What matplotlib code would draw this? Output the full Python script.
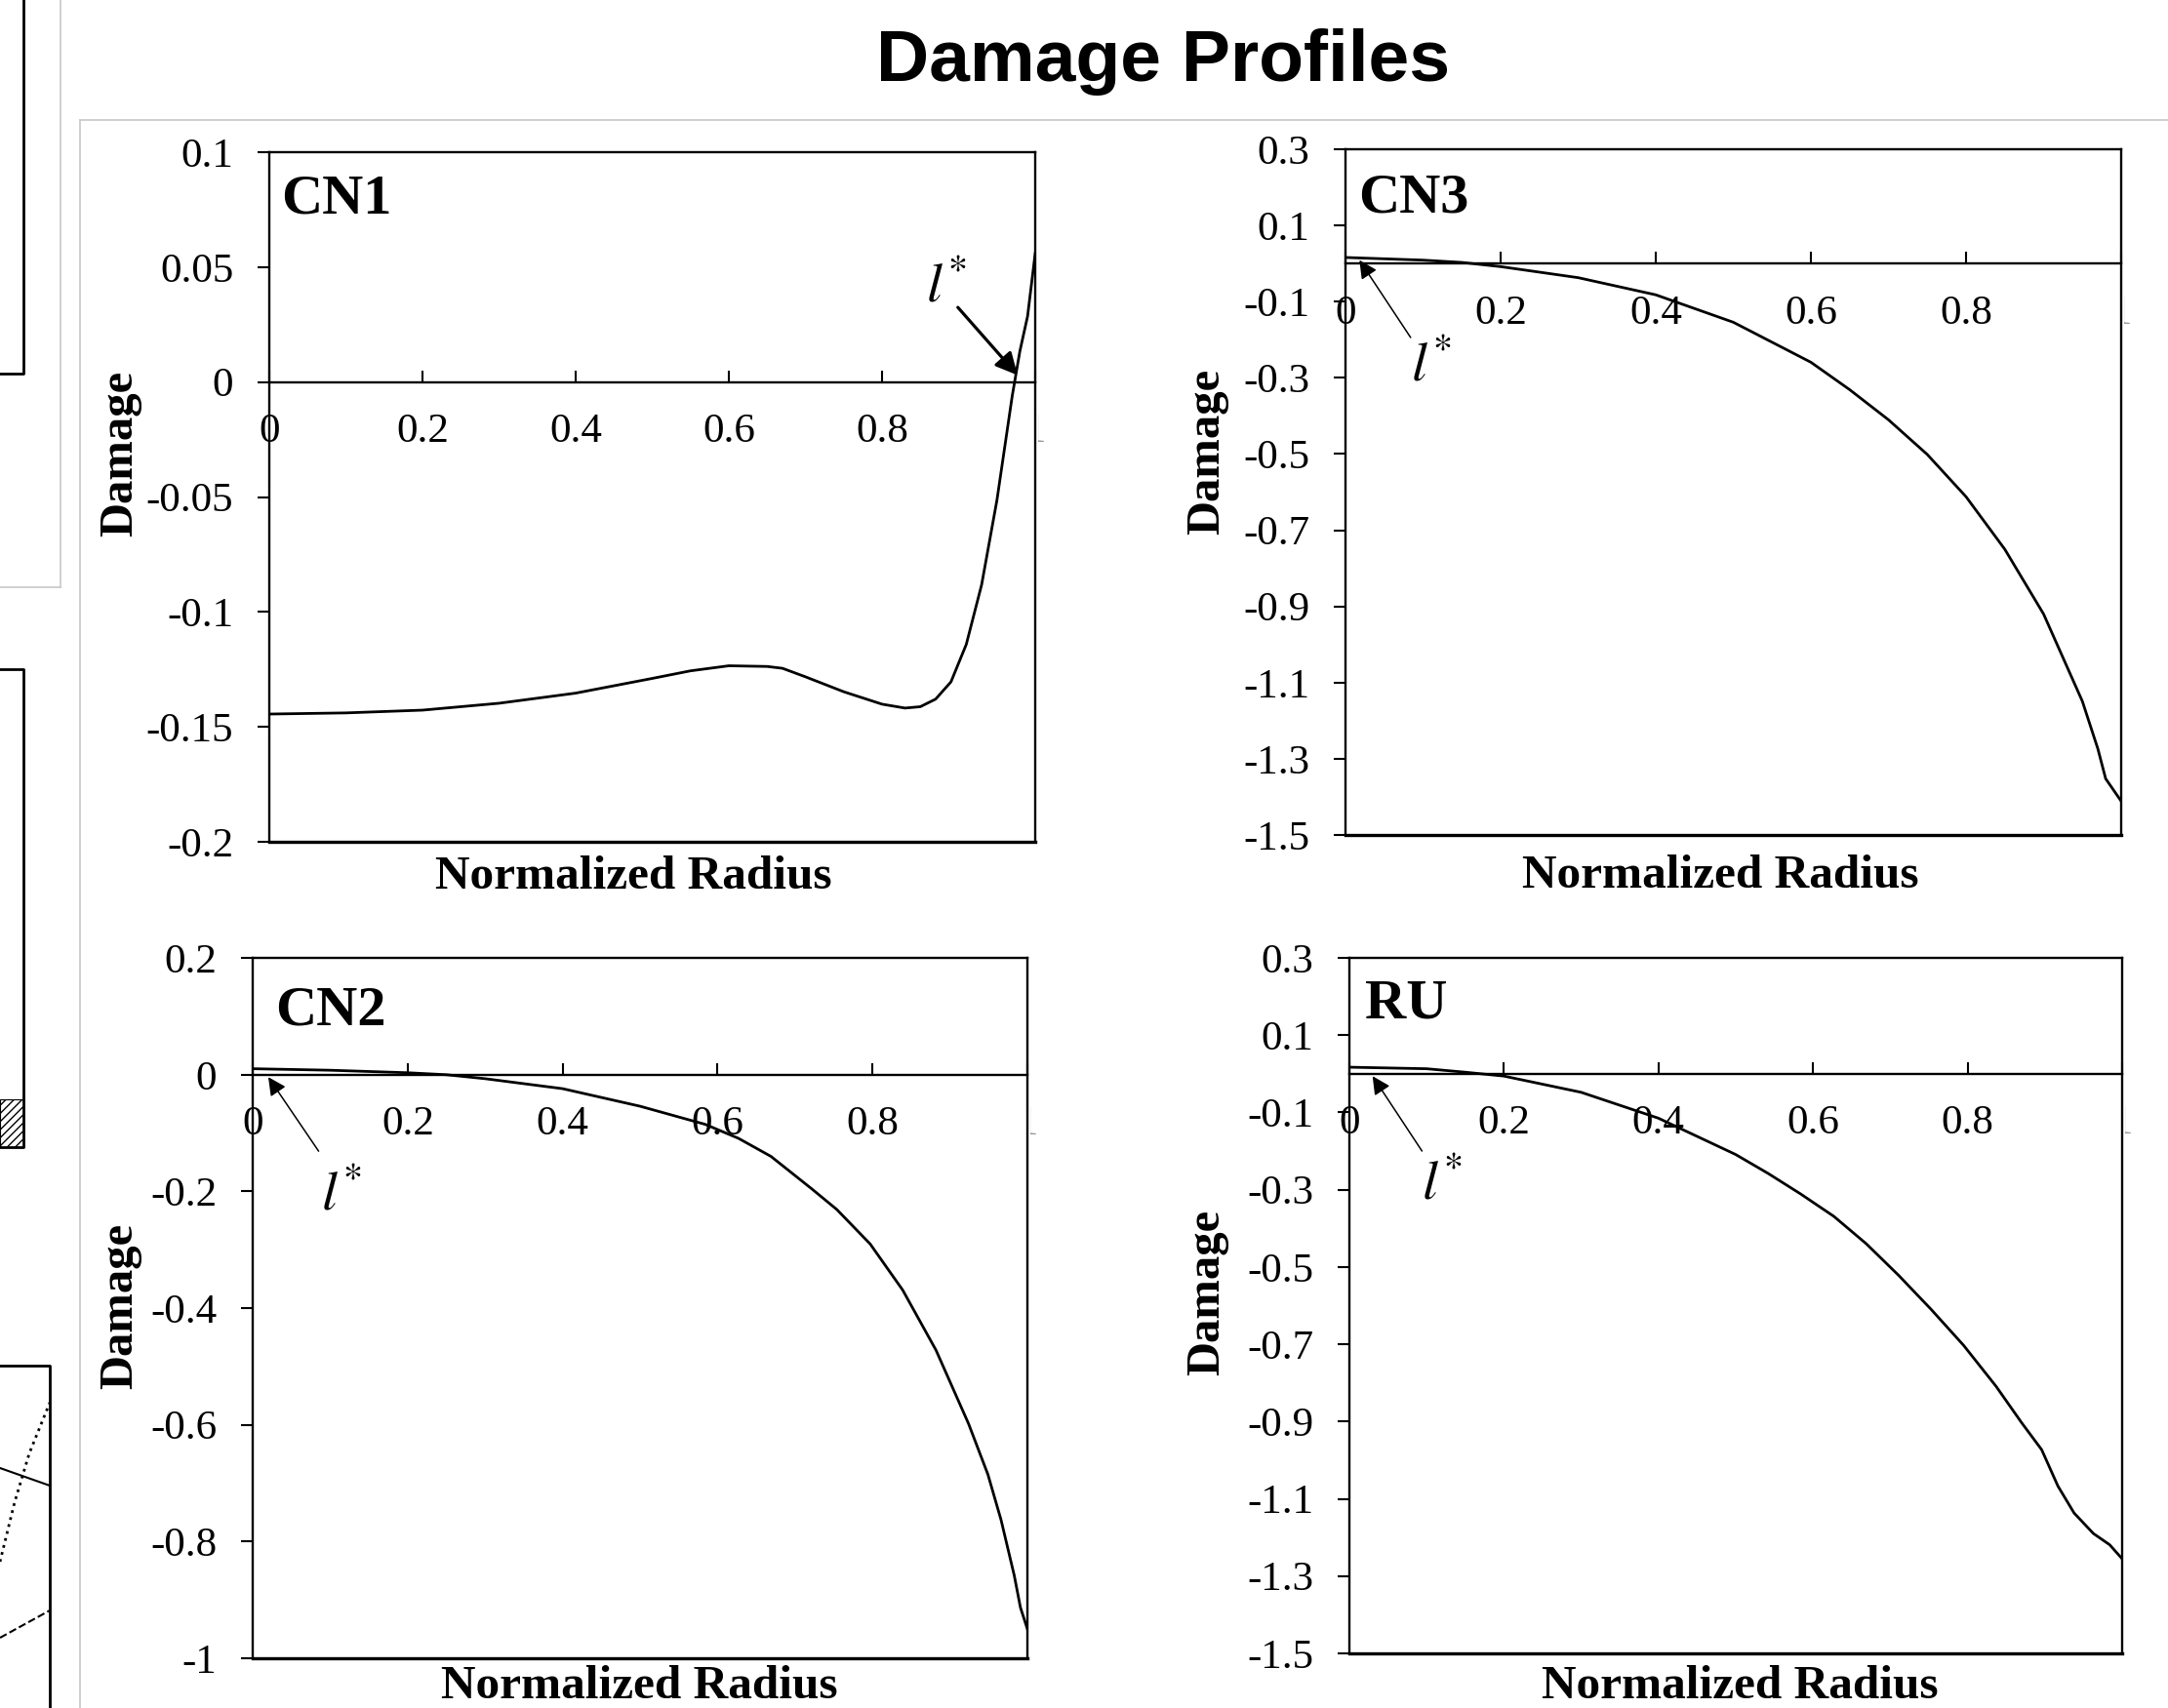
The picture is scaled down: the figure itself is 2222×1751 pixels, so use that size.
import matplotlib
matplotlib.use("Agg")
import matplotlib.pyplot as plt
from matplotlib.lines import Line2D
from matplotlib.patches import Rectangle
from matplotlib.transforms import Bbox, TransformedBbox

plt.rcParams['font.family'] = ['Liberation Serif', 'DejaVu Serif']
plt.rcParams['mathtext.fontset'] = 'stix'

W, H = 2222, 1751

# damage profiles (normalized radius -> damage)
cn1_x = [0, 0.1, 0.2, 0.3, 0.4, 0.5, 0.55, 0.6, 0.65, 0.67, 0.7, 0.75, 0.8, 0.83,
         0.85, 0.87, 0.89, 0.91, 0.93, 0.95, 0.97, 0.98, 0.99, 1.0]
cn1_y = [-0.1444, -0.1439, -0.1427, -0.1397, -0.1353, -0.1289, -0.1256, -0.1234,
         -0.1237, -0.1245, -0.1282, -0.1347, -0.1401, -0.1418, -0.1412, -0.1379,
         -0.1304, -0.1141, -0.0882, -0.0514, -0.006, 0.0135, 0.0286, 0.056]

cn3_x = [0, 0.1, 0.15, 0.2, 0.3, 0.4, 0.5, 0.6, 0.65, 0.7, 0.75, 0.8, 0.85, 0.9,
         0.95, 0.97, 0.98, 1.0]
cn3_y = [0.016, 0.009, 0.003, -0.008, -0.037, -0.082, -0.154, -0.259, -0.331,
         -0.41, -0.501, -0.612, -0.75, -0.92, -1.149, -1.274, -1.352, -1.411]

cn2_x = [0, 0.1, 0.2, 0.25, 0.3, 0.4, 0.5, 0.584, 0.627, 0.669, 0.722, 0.754,
         0.797, 0.839, 0.882, 0.924, 0.949, 0.966, 0.983, 0.991, 1.0]
cn2_y = [0.0103, 0.0077, 0.0034, 0.0, -0.0068, -0.0239, -0.054, -0.085, -0.109,
         -0.140, -0.196, -0.231, -0.290, -0.369, -0.472, -0.598, -0.685, -0.763,
         -0.858, -0.913, -0.95]

ru_x = [0, 0.1, 0.15, 0.2, 0.3, 0.4, 0.5, 0.542, 0.584, 0.627, 0.669, 0.711,
        0.753, 0.795, 0.837, 0.87, 0.896, 0.917, 0.938, 0.963, 0.984, 1.0]
ru_y = [0.017, 0.013, 0.004, -0.006, -0.048, -0.115, -0.209, -0.258, -0.311,
        -0.369, -0.440, -0.522, -0.610, -0.703, -0.809, -0.903, -0.973, -1.067,
        -1.137, -1.190, -1.219, -1.255]

x_ticks = [0, 0.2, 0.4, 0.6, 0.8, 1.0]
x_tick_labels = ['0', '0.2', '0.4', '0.6', '0.8', '1']

cn1_yticks = [0.1, 0.05, 0, -0.05, -0.1, -0.15, -0.2]
cn1_ylabels = ['0.1', '0.05', '0', '-0.05', '-0.1', '-0.15', '-0.2']
cn2_yticks = [0.2, 0, -0.2, -0.4, -0.6, -0.8, -1.0]
cn2_ylabels = ['0.2', '0', '-0.2', '-0.4', '-0.6', '-0.8', '-1']
wide_yticks = [0.3, 0.1, -0.1, -0.3, -0.5, -0.7, -0.9, -1.1, -1.3, -1.5]
wide_ylabels = ['0.3', '0.1', '-0.1', '-0.3', '-0.5', '-0.7', '-0.9', '-1.1', '-1.3', '-1.5']

# l* markers: (arrow tip, arrow tail, text position)
cn1_mark = ((0.977, 0.003), (0.899, 0.0325), (0.884, 0.041))
cn3_mark = ((0.018, 0.009), (0.084, -0.194), (0.110, -0.272))
cn2_mark = ((0.02, -0.004), (0.085, -0.131), (0.114, -0.208))
ru_mark = ((0.03, -0.006), (0.094, -0.2), (0.12, -0.29))

fig = plt.figure(figsize=(W / 100, H / 100), dpi=100)


def px(x, y):
    return x / W, 1 - y / H


def fig_line(xs, ys, **kw):
    fx = [x / W for x in xs]
    fy = [1 - y / H for y in ys]
    fig.add_artist(Line2D(fx, fy, transform=fig.transFigure, **kw))


# page frame and the edge of the neighbouring figure
fig_line([82, W], [123, 123], color='#c8c8c8', lw=1.2)
fig_line([82, 82], [123, H], color='#c8c8c8', lw=1.2)
fig_line([62, 62], [0, 602], color='#c8c8c8', lw=1.2)
fig_line([0, 62], [602, 602], color='#c8c8c8', lw=1.2)
fig_line([0, 24, 24], [383, 383, 0], color='k', lw=2)
fig_line([0, 24, 24, 0], [686, 686, 1176, 1176], color='k', lw=2)
fig.add_artist(Rectangle(px(0, 1176), 24 / W, 49 / H, transform=fig.transFigure,
                         fill=False, hatch='////', lw=0.8, color='k'))
fig_line([0, 51, 51], [1400, 1400, H], color='k', lw=2)
fig_line([0, 51], [1505, 1523], color='k', lw=1.5)
fig_line([0, 15, 30, 51], [1601, 1540, 1490, 1438], color='k', lw=2, ls=':')
fig_line([0, 51], [1679, 1651], color='k', lw=1.5, ls='--')

fig.text(0.5364, 0.964, 'Damage Profiles', ha='center', va='center',
         fontsize=54, fontweight='bold', family=['Liberation Sans', 'DejaVu Sans'])

panels = [
    ('CN1', [0.1242, 0.5071, 0.3533, 0.4038], cn1_x, cn1_y, (-0.2, 0.1),
     cn1_yticks, cn1_ylabels, cn1_mark, (0.015, 0.912), (-0.167, 0.563), (0.476, -0.020), 2.3, 34),
    ('CN3', [0.6206, 0.5111, 0.3578, 0.4015], cn3_x, cn3_y, (-1.5, 0.3),
     wide_yticks, wide_ylabels, cn3_mark, (0.016, 0.909), (-0.151, 0.559), (0.484, -0.028), 1.1, 28),
    ('CN2', [0.1166, 0.0291, 0.3573, 0.4100], cn2_x, cn2_y, (-1.0, 0.2),
     cn2_yticks, cn2_ylabels, cn2_mark, (0.029, 0.905), (-0.143, 0.503), (0.499, -0.009), 1.1, 28),
    ('RU', [0.6224, 0.0320, 0.3564, 0.4072], ru_x, ru_y, (-1.5, 0.3),
     wide_yticks, wide_ylabels, ru_mark, (0.02, 0.913), (-0.156, 0.519), (0.505, -0.017), 1.1, 28),
]

for name, pos, xs, ys, ylim, yt, ytl, mark, name_pos, ylab_pos, xlab_pos, alw, head in panels:
    ax = fig.add_axes(pos)
    ax.plot(xs, ys, color='k', lw=2.0)
    ax.set_xlim(0, 1)
    ax.set_ylim(*ylim)

    for side in ['left', 'right', 'top', 'bottom']:
        ax.spines[side].set_linewidth(1.7)
    ax.spines['bottom'].set_position(('data', 0))
    ax.axhline(ylim[0], color='k', lw=2.4, clip_on=False)

    ax.set_xticks(x_ticks)
    ax.set_xticklabels(x_tick_labels)
    ax.set_yticks(yt)
    ax.set_yticklabels(ytl)
    ax.tick_params(axis='x', direction='in', length=8.5, width=1.5, pad=23, labelsize=31)
    ax.tick_params(axis='y', direction='out', length=8.5, width=1.5, pad=18, labelsize=31)

    # the "1" label sits mostly behind the plot edge in the original
    x1 = pos[0] + pos[2]
    clip = TransformedBbox(Bbox.from_extents(x1 + 3 / W, 0, x1 + 0.05, 1), fig.transFigure)
    last = ax.xaxis.get_major_ticks()[-1].label1
    last.set_clip_box(clip)
    last.set_clip_on(True)
    last.set_color('#999999')

    ax.set_ylabel('Damage', fontsize=35, fontweight='bold')
    ax.yaxis.set_label_coords(*ylab_pos)
    ax.set_xlabel('Normalized Radius', fontsize=35.5, fontweight='bold')
    ax.xaxis.set_label_coords(*xlab_pos)

    ax.text(name_pos[0], name_pos[1], name, transform=ax.transAxes, fontsize=42,
            fontweight='bold', ha='left', va='baseline')

    tip, tail, txt = mark
    ax.annotate('', xy=tip, xytext=tail,
                arrowprops=dict(arrowstyle='-|>', color='k', lw=alw,
                                mutation_scale=head, shrinkA=0, shrinkB=0))
    ax.text(txt[0], txt[1], r'$l^{*}$', fontsize=41, ha='center', va='center')

fig.savefig('out.png', dpi=100)
